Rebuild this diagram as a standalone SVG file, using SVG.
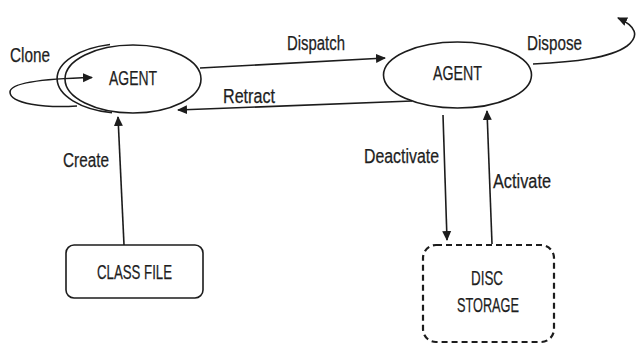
<svg xmlns="http://www.w3.org/2000/svg" width="636" height="346" viewBox="0 0 636 346">
  <style>
    .shape { fill: none; stroke: #1c1c1c; stroke-width: 1.6; }
    .dashed { fill: none; stroke: #1c1c1c; stroke-width: 2.2; stroke-dasharray: 6 4; }
    .edge { fill: none; stroke: #1c1c1c; stroke-width: 1.6; }
    .lbl { font-family: "Liberation Sans", Arial, sans-serif; font-size: 20px; fill: #1e1e1e; stroke: #1e1e1e; stroke-width: 0.25; }
  </style>
  <defs>
    <marker id="arrow" viewBox="0 0 10 10" refX="9" refY="5" markerWidth="10" markerHeight="10" markerUnits="userSpaceOnUse" orient="auto">
      <path d="M0,0.5 L10,5 L0,9.5 Z" fill="#1c1c1c"/>
    </marker>
  </defs>
  <rect width="636" height="346" fill="#ffffff"/>

  <!-- Source agent with its clone outline -->
  <g id="agent-source">
    <path class="shape" d="M110,44.5 A69,35 0 0,0 112,112.8"/>
    <ellipse class="shape" cx="133" cy="79" rx="68" ry="34"/>
    <text class="lbl" x="109" y="85" textLength="48" lengthAdjust="spacingAndGlyphs">AGENT</text>
  </g>

  <!-- Remote agent -->
  <g id="agent-remote">
    <ellipse class="shape" cx="457.5" cy="75" rx="74" ry="33"/>
    <text class="lbl" x="433" y="80" textLength="49" lengthAdjust="spacingAndGlyphs">AGENT</text>
  </g>

  <!-- Class file -->
  <g id="class-file">
    <rect class="shape" x="66" y="245" width="137" height="53" rx="8" ry="8"/>
    <text class="lbl" x="97" y="279" textLength="75" lengthAdjust="spacingAndGlyphs">CLASS FILE</text>
  </g>

  <!-- Disc storage -->
  <g id="disc-storage">
    <rect class="dashed" x="423" y="245" width="131" height="97" rx="13" ry="13"/>
    <text class="lbl" x="471" y="285" textLength="32" lengthAdjust="spacingAndGlyphs">DISC</text>
    <text class="lbl" x="457" y="312" textLength="62" lengthAdjust="spacingAndGlyphs">STORAGE</text>
  </g>

  <!-- Transitions -->
  <g id="connectors">
    <!-- Clone loop -->
    <path class="edge" marker-end="url(#arrow)" d="M77,106 C45,108 10,104 10,92 C10,82 50,78.5 92,77.5"/>
    <text class="lbl" x="10" y="62" textLength="40" lengthAdjust="spacingAndGlyphs">Clone</text>

    <!-- Dispatch -->
    <path class="edge" marker-end="url(#arrow)" d="M200,68 L385,58"/>
    <text class="lbl" x="287" y="50" textLength="58" lengthAdjust="spacingAndGlyphs">Dispatch</text>

    <!-- Retract -->
    <path class="edge" marker-end="url(#arrow)" d="M412,101 L178,110"/>
    <text class="lbl" x="223" y="103" textLength="52" lengthAdjust="spacingAndGlyphs">Retract</text>

    <!-- Create -->
    <path class="edge" marker-end="url(#arrow)" d="M124,245 L118,117"/>
    <text class="lbl" x="63" y="167" textLength="46" lengthAdjust="spacingAndGlyphs">Create</text>

    <!-- Dispose -->
    <path class="edge" marker-end="url(#arrow)" d="M533,64 C575,62 610,58 627,46 C640,36 636,26 618,18"/>
    <text class="lbl" x="527" y="50" textLength="55" lengthAdjust="spacingAndGlyphs">Dispose</text>

    <!-- Deactivate -->
    <path class="edge" marker-end="url(#arrow)" d="M443,115 L447,240"/>
    <text class="lbl" x="364" y="163" textLength="75" lengthAdjust="spacingAndGlyphs">Deactivate</text>

    <!-- Activate -->
    <path class="edge" marker-end="url(#arrow)" d="M492,244 L487,111"/>
    <text class="lbl" x="493" y="188" textLength="58" lengthAdjust="spacingAndGlyphs">Activate</text>
  </g>
</svg>
